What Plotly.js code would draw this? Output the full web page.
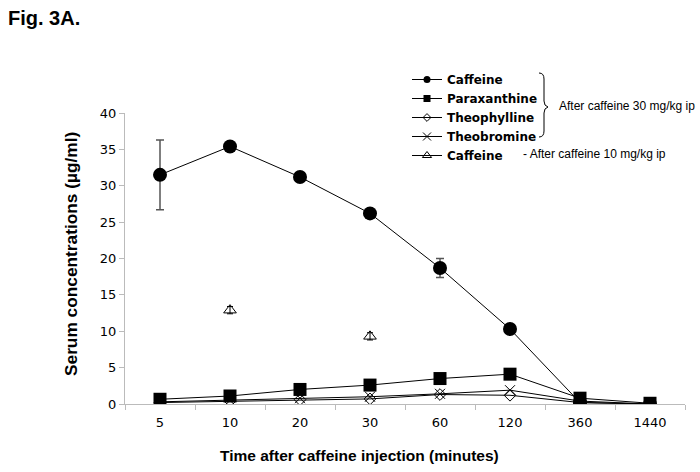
<!DOCTYPE html>
<html><head><meta charset="utf-8">
<script src="https://cdn.plot.ly/plotly-3.0.1.min.js"></script>
<style>body{margin:0;background:#fff}#c{width:700px;height:472px}</style>
</head><body><div id="c"></div>
<script>
var timeLabels = ["5","10","20","30","60","120","360","1440"];
var caffeine30 = [31.5, 35.4, 31.2, 26.2, 18.7, 10.3, 0.2, 0.0];
var caffeine30Err = [4.8, 0.3, 0.5, 0.3, 1.3, 0.3, 0.1, 0.0];
var paraxanthine = [0.65, 1.1, 2.0, 2.6, 3.5, 4.1, 0.8, 0.1];
var theophylline = [0.2, 0.4, 0.6, 0.7, 1.3, 1.2, 0.2, 0.0];
var theobromine = [0.3, 0.5, 0.8, 1.0, 1.4, 1.9, 0.4, 0.0];
var caffeine10Labels = ["10","30"];
var caffeine10 = [12.9, 9.3];
var caffeine10Err = [0.5, 0.5];
var legendNames = ["Caffeine","Paraxanthine","Theophylline","Theobromine","Caffeine"];

// plot area in pixels: x 125..685, y 113..404
function px(x){return (x-125)/560;}
function py(y){return (404-y)/291;}

var lineStyle = {color:'#000', width:1};
var symbols = [
  {symbol:'circle', size:14, color:'#000'},
  {symbol:'square', size:13, color:'#000'},
  {symbol:'diamond-open', size:9, color:'#000', line:{width:1, color:'#000'}},
  {symbol:'x-thin-open', size:10, color:'#000', line:{width:1, color:'#000'}},
  {symbol:'triangle-up-open', size:11, color:'#000', line:{width:1, color:'#000'}}
];
var legendSymbols = [
  {symbol:'circle', size:7, color:'#000'},
  {symbol:'square', size:7, color:'#000'},
  {symbol:'diamond-open', size:6, color:'#000', line:{width:1, color:'#000'}},
  {symbol:'x-thin-open', size:8, color:'#000', line:{width:1, color:'#000'}},
  {symbol:'triangle-up-open', size:8, color:'#000', line:{width:1, color:'#000'}}
];

var traces = [
  {x:timeLabels, y:caffeine30, name:legendNames[0], mode:'lines+markers', line:lineStyle, marker:symbols[0], showlegend:false,
   error_y:{type:'data', array:caffeine30Err, visible:true, color:'#555', thickness:1.5, width:4}},
  {x:timeLabels, y:paraxanthine, name:legendNames[1], mode:'lines+markers', line:lineStyle, marker:symbols[1], showlegend:false},
  {x:timeLabels, y:theophylline, name:legendNames[2], mode:'lines+markers', line:lineStyle, marker:symbols[2], showlegend:false},
  {x:timeLabels, y:theobromine, name:legendNames[3], mode:'lines+markers', line:lineStyle, marker:symbols[3], showlegend:false},
  {x:caffeine10Labels, y:caffeine10, name:legendNames[4], mode:'markers', marker:symbols[4], showlegend:false,
   error_y:{type:'data', array:caffeine10Err, visible:true, color:'#000', thickness:1, width:3}}
];
for (var i=0;i<legendNames.length;i++){
  traces.push({x:[null], y:[null], name:'<b>'+legendNames[i]+'</b>', mode:'lines+markers', line:lineStyle, marker:legendSymbols[i], showlegend:true});
}

var layout = {
  width:700, height:472,
  margin:{l:125, r:15, t:113, b:68},
  paper_bgcolor:'#fff', plot_bgcolor:'#fff',
  showlegend:true,
  legend:{x:px(407), y:py(65), xanchor:'left', yanchor:'top', bgcolor:'rgba(0,0,0,0)',
    itemwidth:30, tracegroupgap:0, font:{family:'DejaVu Sans', size:12, color:'#000'}},
  xaxis:{type:'category', categoryorder:'array', categoryarray:timeLabels,
    range:[-0.5,7.5], tickson:'boundaries', ticks:'outside', ticklen:5, tickcolor:'#bbb',
    showline:true, linecolor:'#bbb', showgrid:false, zeroline:false, ticklabelstandoff:6,
    tickfont:{family:'DejaVu Sans', size:13, color:'#000'}},
  yaxis:{range:[0,40], dtick:5, ticks:'outside', ticklen:5, tickcolor:'#bbb',
    showline:true, linecolor:'#bbb', showgrid:false, zeroline:false,
    tickfont:{family:'DejaVu Sans', size:13, color:'#000'}},
  shapes:[
    {type:'path', xref:'paper', yref:'paper', line:{color:'#000', width:1},
     path:'M '+px(539)+','+py(73)+' Q '+px(544)+','+py(73)+' '+px(544)+','+py(79)+
          ' L '+px(544)+','+py(101)+' Q '+px(544)+','+py(106)+' '+px(548)+','+py(107)+
          ' Q '+px(544)+','+py(108)+' '+px(544)+','+py(113)+
          ' L '+px(544)+','+py(131)+' Q '+px(544)+','+py(137)+' '+px(539)+','+py(137)}
  ],
  annotations:[
    {text:'<b>Fig. 3A.</b>', xref:'paper', yref:'paper', x:px(6), y:py(18), xanchor:'left', yanchor:'middle', showarrow:false, font:{family:'Liberation Sans', size:20, color:'#000'}},
    {text:'<b>Time after caffeine injection (minutes)</b>', xref:'paper', yref:'paper', x:px(359), y:py(455), xanchor:'center', yanchor:'middle', showarrow:false, font:{family:'Liberation Sans', size:15.5, color:'#000'}},
    {text:'<b>Serum concentrations (µg/ml)</b>', xref:'paper', yref:'paper', x:px(71), y:py(254), xanchor:'center', yanchor:'middle', textangle:-90, showarrow:false, font:{family:'Liberation Sans', size:17.3, color:'#000'}},
    {text:'After caffeine 30 mg/kg ip', xref:'paper', yref:'paper', x:px(557), y:py(106), xanchor:'left', yanchor:'middle', showarrow:false, font:{family:'Liberation Sans', size:12, color:'#000'}},
    {text:'- After caffeine 10 mg/kg ip', xref:'paper', yref:'paper', x:px(521), y:py(154), xanchor:'left', yanchor:'middle', showarrow:false, font:{family:'Liberation Sans', size:12, color:'#000'}}
  ]
};
Plotly.newPlot('c', traces, layout, {displayModeBar:false, staticPlot:true});
</script></body></html>
